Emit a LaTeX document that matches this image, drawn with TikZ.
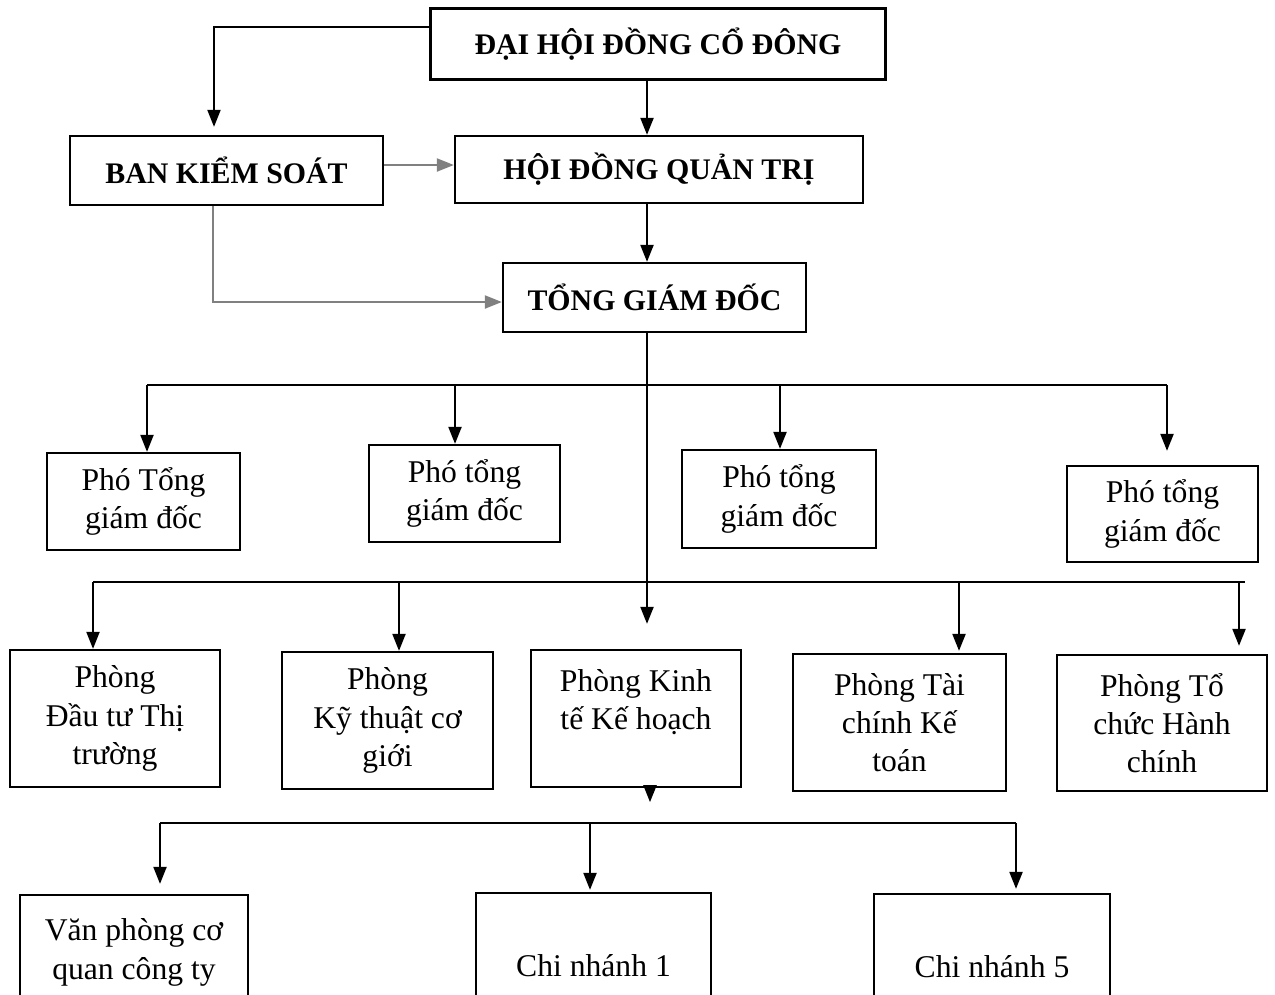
\documentclass[tikz,border=0pt]{standalone}
\usepackage{fontspec}
\setmainfont{Liberation Serif}
\usetikzlibrary{arrows.meta,calc}

\tikzset{
  unit/.style={draw, line width=1.3pt, inner sep=0pt, align=center,
    font=\fontsize{18}{21.8}\selectfont},
  head/.style={unit, font=\fontsize{17}{20}\selectfont\bfseries},
  arr/.style={line width=1.2pt, -{Triangle[width=0.26cm,length=0.34cm]}},
  link/.style={arr, draw=black!50},
  bus/.style={line width=1.3pt},
}

\begin{document}
\begin{tikzpicture}
  \useasboundingbox (0,0) rectangle (25.5,-19.88);
  \clip (0,0) rectangle (25.5,-19.88);

  % top level
  \node[head, minimum width=9.1cm, minimum height=1.42cm] (dhd) at (13.16,-0.88) {ĐẠI HỘI ĐỒNG CỔ ĐÔNG};
  \node[head, minimum width=6.26cm, minimum height=1.38cm] (bks) at (4.53,-3.41) {BAN KIỂM SOÁT};
  \node[head, minimum width=8.16cm, minimum height=1.34cm] (hdqt) at (13.18,-3.39) {HỘI ĐỒNG QUẢN TRỊ};
  \node[head, minimum width=6.06cm, minimum height=1.38cm] (tgd) at (13.09,-5.95) {TỔNG GIÁM ĐỐC};
  \coordinate (trunk) at (12.94,0);

  % deputies
  \node[unit, minimum width=3.86cm, minimum height=1.94cm] (p1) at (2.87,-10.03) {Phó Tổng\\giám đốc};
  \node[unit, minimum width=3.82cm, minimum height=1.94cm] (p2) at (9.29,-9.87) {Phó tổng\\giám đốc};
  \node[unit, minimum width=3.88cm, minimum height=1.96cm] (p3) at (15.58,-9.98) {Phó tổng\\giám đốc};
  \node[unit, minimum width=3.82cm, minimum height=1.92cm] (p4) at (23.25,-10.28) {Phó tổng\\giám đốc};

  % departments
  \node[unit, minimum width=4.20cm, minimum height=2.74cm] (d1) at (2.30,-14.37) {Phòng\\Đầu tư Thị\\trường};
  \node[unit, minimum width=4.22cm, minimum height=2.74cm] (d2) at (7.75,-14.41) {Phòng\\Kỹ thuật cơ\\giới};
  \node[unit, minimum width=4.20cm, minimum height=2.74cm] (d3) at (12.72,-14.37) {Phòng Kinh\\tế Kế hoạch\\\rule{0pt}{12pt}};
  \node[unit, minimum width=4.26cm, minimum height=2.74cm] (d4) at (17.99,-14.45) {Phòng Tài\\chính Kế\\toán};
  \node[unit, minimum width=4.20cm, minimum height=2.72cm] (d5) at (23.24,-14.46) {Phòng Tổ\\chức Hành\\chính};

  % branches
  \node[unit, minimum width=4.56cm, minimum height=2.92cm] (vp) at (2.68,-19.36) {Văn phòng cơ\\quan công ty\\\rule{0pt}{12pt}};
  \node[unit, minimum width=4.70cm, minimum height=2.92cm] (cn1) at (11.87,-19.32) {Chi nhánh 1};
  \node[unit, minimum width=4.72cm, minimum height=2.92cm] (cn5) at (19.84,-19.34) {Chi nhánh 5};

  % upper links
  \draw[arr, shorten >=0.16cm] ([yshift=0.34cm]dhd.west) -| ([xshift=-0.25cm]bks.north);
  \draw[arr] (dhd.south -| trunk) -- (hdqt.north -| trunk);
  \draw[arr] (hdqt.south -| trunk) -- (tgd.north -| trunk);
  \draw[link] ([yshift=0.11cm]bks.east) -- ([yshift=0.11cm]bks.east -| hdqt.west);
  \draw[link] ([xshift=-0.27cm]bks.south) |- ([yshift=-0.09cm]tgd.west);
  \draw[arr] (tgd.south -| trunk) -- ([yshift=0.5cm]d3.north -| trunk);

  % bus to deputies
  \coordinate (b1l) at (2.94,-7.70);
  \coordinate (b1r) at (23.34,-7.70);
  \draw[bus] (b1l) -- (b1r);
  \foreach \n/\dx/\gap in {p1/0.07/0pt, p2/-0.19/0pt, p3/0.02/0pt, p4/0.09/0.28cm}
    \draw[arr, shorten >=\gap] ([xshift=\dx cm]\n.north |- b1l) -- ([xshift=\dx cm]\n.north);

  % bus to departments
  \coordinate (b2l) at (1.86,-11.64);
  \coordinate (b2r) at (24.90,-11.64);
  \draw[bus] (b2l) -- (b2r);
  \foreach \n/\dx/\gap in {d1/-0.44/0pt, d2/0.23/0pt, d4/1.19/0.04cm, d5/1.54/0.16cm}
    \draw[arr, shorten >=\gap] ([xshift=\dx cm]\n.north |- b2l) -- ([xshift=\dx cm]\n.north);

  % bus to branches
  \draw[arr] ([xshift=0.28cm]d3.south) -- ++(0,-0.28);
  \coordinate (b3l) at (3.20,-16.46);
  \coordinate (b3r) at (20.32,-16.46);
  \draw[bus] (b3l) -- (b3r);
  \foreach \n/\dx/\gap in {vp/0.52/0.2cm, cn1/-0.07/0.04cm, cn5/0.48/0.08cm}
    \draw[arr, shorten >=\gap] ([xshift=\dx cm]\n.north |- b3l) -- ([xshift=\dx cm]\n.north);
\end{tikzpicture}
\end{document}
